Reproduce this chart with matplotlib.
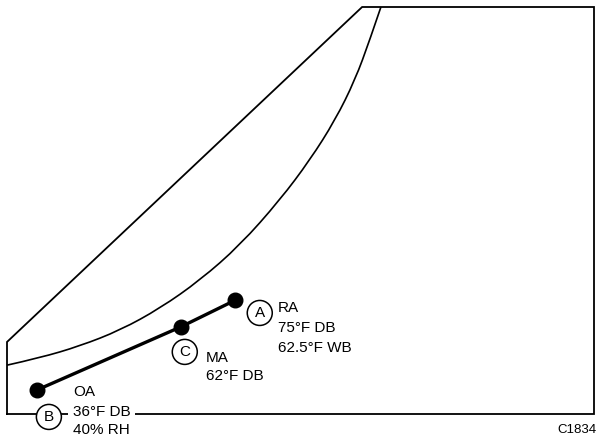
import matplotlib.pyplot as plt
from matplotlib.path import Path
from matplotlib.patches import PathPatch

plt.rcParams['font.family'] = ['Liberation Sans', 'DejaVu Sans']

# chart outline (arbitrary chart units, 0-100 across the frame)
frame_x = [0, 0, 60.5, 100, 100, 0]
frame_y = [0, 17.7, 100, 100, 0, 0]

# saturation curve
sat_x = [0, 5.6, 12.4, 19.3, 26.1, 32.9, 39.7, 46.5, 51.6, 55.9, 59.3, 61.8, 63.7]
sat_y = [12.0, 13.8, 16.7, 20.6, 26.0, 32.9, 41.5, 52.6, 62.4, 72.2, 82.1, 91.9, 100]

# air states: outside, mixed, return
states = ['OA', 'MA', 'RA']
state_x = [5.1, 29.6, 38.8]
state_y = [5.9, 21.4, 27.9]
letters = ['B', 'C', 'A']
notes = [['OA', '36°F DB', '40% RH'],
         ['MA', '62°F DB'],
         ['RA', '75°F DB', '62.5°F WB']]

# offsets in points for the circled letter and the text block
letter_off = [(8.6, -19.4), (2.9, -18), (18, -9)]
text_off = [(26, [-1.4, -15.8, -28.8]), (18, [-22.3, -35.3]), (31, [-5.4, -19.8, -34.2])]

fig = plt.figure(figsize=(5.98, 4.38), dpi=100)
ax = fig.add_axes([7/598, 24/438, 587/598, 407/438])
ax.set_xlim(0, 100)
ax.set_ylim(0, 100)
ax.axis('off')

ax.plot(frame_x, frame_y, color='black', lw=1.3, clip_on=False, solid_joinstyle='miter')

# smooth the read points: they act as control points of a quadratic curve
pts = list(zip(sat_x, sat_y))
verts = [pts[0]]
codes = [Path.MOVETO]
for k in range(1, len(pts) - 1):
    mid = ((pts[k][0] + pts[k + 1][0]) / 2, (pts[k][1] + pts[k + 1][1]) / 2)
    if k == len(pts) - 2:
        mid = pts[-1]
    verts += [pts[k], mid]
    codes += [Path.CURVE3, Path.CURVE3]
ax.add_patch(PathPatch(Path(verts, codes), fc='none', ec='black', lw=1.2, clip_on=False))

ax.plot(state_x, state_y, color='black', lw=2.4, marker='o', ms=10.5, clip_on=False, zorder=3)

for i in range(len(states)):
    ax.annotate(letters[i], (state_x[i], state_y[i]), xytext=letter_off[i],
                textcoords='offset points', ha='center', va='center', fontsize=11,
                bbox=dict(boxstyle='circle,pad=0.36', fc='white', ec='black', lw=1.1),
                annotation_clip=False, zorder=4)
    dx, dys = text_off[i]
    for j, line in enumerate(notes[i]):
        bb = None
        if i == 0 and j == 1:
            bb = dict(boxstyle='square,pad=0.3', fc='white', ec='none')
        ax.annotate(line, (state_x[i], state_y[i]), xytext=(dx, dys[j]),
                    textcoords='offset points', ha='left', va='center', fontsize=11,
                    bbox=bb, annotation_clip=False, zorder=4)

fig.text(597/598, 2/438, 'C1834', ha='right', va='bottom', fontsize=9.5)

fig.savefig('out.png', dpi=100)
